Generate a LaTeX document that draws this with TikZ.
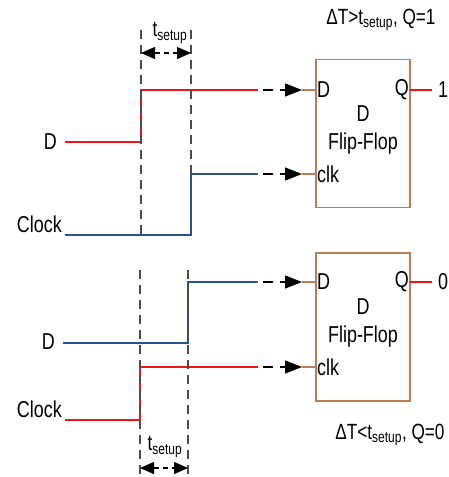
\documentclass[tikz,border=0pt]{standalone}
\usepackage{fontspec}
\setmainfont[FakeStretch=0.78]{Liberation Sans}
\usetikzlibrary{arrows.meta}
\definecolor{sigred}{RGB}{240,20,20}
\definecolor{sigblue}{RGB}{45,80,145}
\definecolor{ffbrown}{RGB}{185,125,90}
\begin{document}
\begin{tikzpicture}[x=1pt, y=-1pt,
  ff/.style={draw=ffbrown, line width=1.6pt, minimum width=94pt,
    minimum height=148pt, inner sep=0pt},
  redsig/.style={draw=sigred, line width=2.2pt},
  bluesig/.style={draw=sigblue, line width=2.2pt},
  stub/.style={draw=ffbrown, line width=1.6pt},
  guide/.style={draw=black!70, line width=1.2pt, dash pattern=on 9pt off 6pt},
  feed/.style={-{Triangle[length=17pt,width=13pt]}, line width=1.2pt,
    dash pattern=on 10pt off 7pt},
  span/.style={{Triangle[length=14pt,width=12pt]}-{Triangle[length=14pt,width=12pt]},
    line width=1.2pt, dash pattern=on 5pt off 4pt},
  lbl/.style={font=\fontsize{23}{27}\selectfont, inner sep=1pt},
  note/.style={font=\fontsize{22}{26}\selectfont, inner sep=0pt}
]
\useasboundingbox (0,0) rectangle (449,477);

% setup time met
\node[ff] (ffA) at (363,133.5) {};
\coordinate (ffA-d) at (316,90);
\coordinate (ffA-clk) at (316,174);
\coordinate (ffA-q) at (410,90);
\node[lbl, anchor=west] at (ffA-d) {D};
\node[lbl, anchor=west] at (ffA-clk) {clk};
\node[lbl, anchor=east] at (ffA-q) {Q};
\node[lbl, align=center] at (363,130) {D\\[1pt]Flip-Flop};
\coordinate (qA) at (432,90);
\draw[redsig] (ffA-q) -- (qA);
\node[lbl, anchor=west] (oneA) at (437,90) {1};
\node[note] (dtA) at (381,20) {ΔT>t\textsubscript{setup}, Q=1};

\coordinate (dA0) at (65,142);
\coordinate (dA1) at (141,90);
\coordinate (dA2) at (258,90);
\draw[redsig] (dA0) -| (dA1) -- (dA2);
\coordinate (cA0) at (65,235);
\coordinate (cA1) at (191,174);
\coordinate (cA2) at (258,174);
\draw[bluesig] (cA0) -| (cA1) -- (cA2);
\node[lbl, anchor=east] (dlA) at (58,142) {D};
\node[lbl, anchor=base east] (clA) at (63,232) {Clock};

\draw[feed] ([xshift=5pt]dA2) -- ([xshift=-14pt]ffA-d);
\draw[stub] ([xshift=-14pt]ffA-d) -- (ffA-d);
\draw[feed] ([xshift=5pt]cA2) -- ([xshift=-14pt]ffA-clk);
\draw[stub] ([xshift=-14pt]ffA-clk) -- (ffA-clk);

\coordinate (gA1) at (141,30);
\coordinate (gA2) at (191,30);
\draw[guide] (gA1) -- (cA0 -| gA1);
\draw[guide] (gA2) -- (cA1);
\draw[span] (141,53) -- (191,53);
\node[note] (tsA) at (170,33) {t\textsubscript{setup}};

% setup time violated
\node[ff] (ffB) at (363,327) {};
\coordinate (ffB-d) at (316,282);
\coordinate (ffB-clk) at (316,367);
\coordinate (ffB-q) at (410,282);
\node[lbl, anchor=west] at (ffB-d) {D};
\node[lbl, anchor=west] at (ffB-clk) {clk};
\node[lbl, anchor=east] at (ffB-q) {Q};
\node[lbl, align=center] at (363,323) {D\\[1pt]Flip-Flop};
\coordinate (qB) at (432,282);
\draw[redsig] (ffB-q) -- (qB);
\node[lbl, anchor=west] (zeroB) at (437,282) {0};
\node[note] (dtB) at (390,435) {ΔT<t\textsubscript{setup}, Q=0};

\coordinate (dB0) at (63,343);
\coordinate (dB1) at (188,282);
\coordinate (dB2) at (258,282);
\draw[bluesig] (dB0) -| (dB1) -- (dB2);
\coordinate (cB0) at (65,420);
\coordinate (cB1) at (140,367);
\coordinate (cB2) at (258,367);
\draw[redsig] (cB0) -| (cB1) -- (cB2);
\node[lbl, anchor=east] (dlB) at (56,342) {D};
\node[lbl, anchor=base east] (clB) at (63,417) {Clock};

\draw[feed] ([xshift=5pt]dB2) -- ([xshift=-14pt]ffB-d);
\draw[stub] ([xshift=-14pt]ffB-d) -- (ffB-d);
\draw[feed] ([xshift=5pt]cB2) -- ([xshift=-14pt]ffB-clk);
\draw[stub] ([xshift=-14pt]ffB-clk) -- (ffB-clk);

\draw[guide] (140,270) -- (140,477);
\draw[guide] (188,270) -- (188,477);
\draw[span] (140,468) -- (188,468);
\node[note] (tsB) at (165,447) {t\textsubscript{setup}};
\end{tikzpicture}
\end{document}
